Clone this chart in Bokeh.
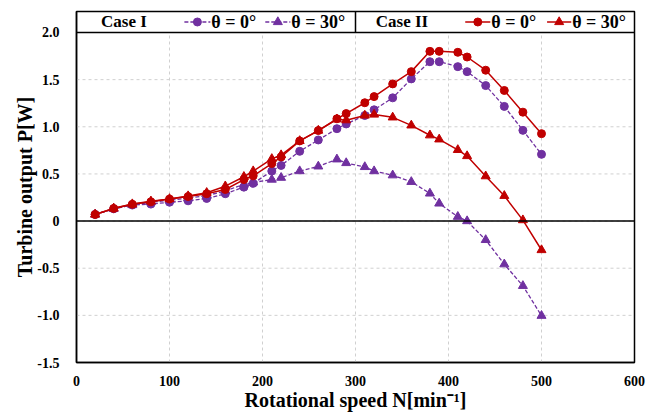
from bokeh.plotting import figure
from bokeh.models import Range1d, FixedTicker, CustomJSTickFormatter, Span, Label
from bokeh.embed import file_html
from bokeh.resources import INLINE

# ---- data ----
N = [20, 40, 60, 80, 100, 120, 140, 160, 180, 190, 210, 220, 240, 260,
     280, 290, 310, 320, 340, 360, 380, 390, 410, 420, 440, 460, 480, 500]
case1_t0 = [0.07, 0.13, 0.17, 0.18, 0.20, 0.215, 0.24, 0.29, 0.36, 0.40, 0.53, 0.59, 0.74, 0.86,
            0.98, 1.03, 1.12, 1.18, 1.307, 1.508, 1.69, 1.69, 1.638, 1.585, 1.437, 1.216, 0.962, 0.708]
case1_t30 = [0.07, 0.13, 0.17, 0.20, 0.22, 0.245, 0.27, 0.32, 0.39, 0.41, 0.44, 0.46, 0.53, 0.58,
             0.655, 0.616, 0.574, 0.53, 0.486, 0.416, 0.293, 0.187, 0.046, 0.0, -0.20, -0.458, -0.687, -1.004]
case2_t0 = [0.07, 0.134, 0.178, 0.204, 0.233, 0.26, 0.29, 0.335, 0.44, 0.48, 0.61, 0.68, 0.85, 0.96,
            1.085, 1.14, 1.255, 1.32, 1.455, 1.585, 1.80, 1.80, 1.79, 1.74, 1.60, 1.385, 1.155, 0.927]
case2_t30 = [0.07, 0.135, 0.18, 0.21, 0.235, 0.265, 0.30, 0.37, 0.47, 0.53, 0.66, 0.70, 0.85, 0.96,
             1.08, 1.07, 1.12, 1.13, 1.10, 1.015, 0.91, 0.867, 0.755, 0.69, 0.476, 0.268, 0.01, -0.307]

x_ticks = [0, 100, 200, 300, 400, 500, 600]
y_ticks = [-1.5, -1.0, -0.5, 0.0, 0.5, 1.0, 1.5, 2.0]

PURPLE = "#7030a0"
RED = "#c00000"
FONT = "Liberation Serif"

X0, X1 = 0, 600
Y0, Y1 = -1.5, 2.0
LEG_TOP = 2.2227      # top strip of the frame holds the legend
LEG_MID = (Y1 + LEG_TOP) / 2

W, H = 650, 413
p = figure(width=W, height=H, x_range=Range1d(X0, X1), y_range=Range1d(Y0, LEG_TOP),
           toolbar_location=None, output_backend="svg", title=None,
           min_border_left=76, min_border_right=W - 634, min_border_top=11,
           min_border_bottom=H - 362)
p.outline_line_color = "black"
p.outline_line_width = 1.5
p.background_fill_color = "white"
p.border_fill_color = "white"
p.xgrid.visible = False
p.ygrid.visible = False

p.xaxis.ticker = FixedTicker(ticks=x_ticks)
p.yaxis.ticker = FixedTicker(ticks=y_ticks)
p.yaxis.formatter = CustomJSTickFormatter(code="return tick == 0 ? '0' : tick.toFixed(1);")

for ax in (p.xaxis, p.yaxis):
    ax.axis_line_color = "black"
    ax.axis_line_width = 1.5
    ax.major_tick_line_color = None
    ax.minor_tick_line_color = None
    ax.major_label_text_font = FONT
    ax.major_label_text_font_size = "14px"
    ax.major_label_text_font_style = "bold"
    ax.major_label_text_color = "black"
    ax.axis_label_text_font = FONT
    ax.axis_label_text_font_size = "20px"
    ax.axis_label_text_font_style = "bold"
    ax.axis_label_text_color = "black"

p.xaxis.axis_label = "Rotational speed N[min⁻¹]"
p.yaxis.axis_label = "Turbine output P[W]"
p.yaxis.major_label_standoff = 11
p.yaxis.axis_label_standoff = -2
p.xaxis.major_label_standoff = 7
p.xaxis.axis_label_standoff = 0

# dashed grid limited to the data area (below the legend strip)
gx = [t for t in x_ticks if X0 < t < X1]
gy = [t for t in y_ticks if Y0 < t < Y1]
p.segment(x0=gx, y0=[Y0] * len(gx), x1=gx, y1=[Y1] * len(gx),
          line_color="#d0d0d0", line_dash="3 3", line_width=1, level="underlay")
p.segment(x0=[X0] * len(gy), y0=gy, x1=[X1] * len(gy), y1=gy,
          line_color="#d0d0d0", line_dash="3 3", line_width=1, level="underlay")

p.add_layout(Span(location=0, dimension="width", line_color="black", line_width=1.5))

# Case I (purple, dashed)
p.line(N, case1_t0, line_color=PURPLE, line_width=1.3, line_dash="4 2")
p.scatter(N, case1_t0, marker="circle", size=8, fill_color=PURPLE, line_color=PURPLE)
p.line(N, case1_t30, line_color=PURPLE, line_width=1.3, line_dash="4 2")
p.scatter(N, case1_t30, marker="triangle", size=9, fill_color=PURPLE, line_color=PURPLE)
# Case II (red, solid)
p.line(N, case2_t0, line_color=RED, line_width=1.5)
p.scatter(N, case2_t0, marker="circle", size=8, fill_color=RED, line_color=RED)
p.line(N, case2_t30, line_color=RED, line_width=1.5)
p.scatter(N, case2_t30, marker="triangle", size=9, fill_color=RED, line_color=RED)

# ---- legend strip (table-like header) ----
p.add_layout(Span(location=Y1, dimension="width", line_color="black", line_width=1.5))
p.segment(x0=[300], y0=[Y1], x1=[300], y1=[LEG_TOP], line_color="black", line_width=1.5)

def leg_label(x, text, align="left", size="16px"):
    p.add_layout(Label(x=x, y=LEG_MID, text=text, text_font=FONT, text_font_size=size,
                       text_font_style="bold", text_baseline="middle", text_align=align,
                       text_color="black"))

leg_label(51, "Case I", "center", "17px")
leg_label(350, "Case II", "center", "17px")

items = [
    (116, 144, PURPLE, "4 2", "circle", 8, "θ = 0°"),
    (203, 230, PURPLE, "4 2", "triangle", 9, "θ = 30°"),
    (418, 445, RED, "solid", "circle", 8, "θ = 0°"),
    (506, 532, RED, "solid", "triangle", 9, "θ = 30°"),
]
for xa, xb, c, dash, mk, sz, txt in items:
    p.line([xa, xb], [LEG_MID, LEG_MID], line_color=c, line_width=1.5, line_dash=dash)
    p.scatter([(xa + xb) / 2], [LEG_MID], marker=mk, size=sz, fill_color=c, line_color=c)
    leg_label(xb + 1, txt, "left", "18px")

open("out.html", "w").write(file_html(p, INLINE))
